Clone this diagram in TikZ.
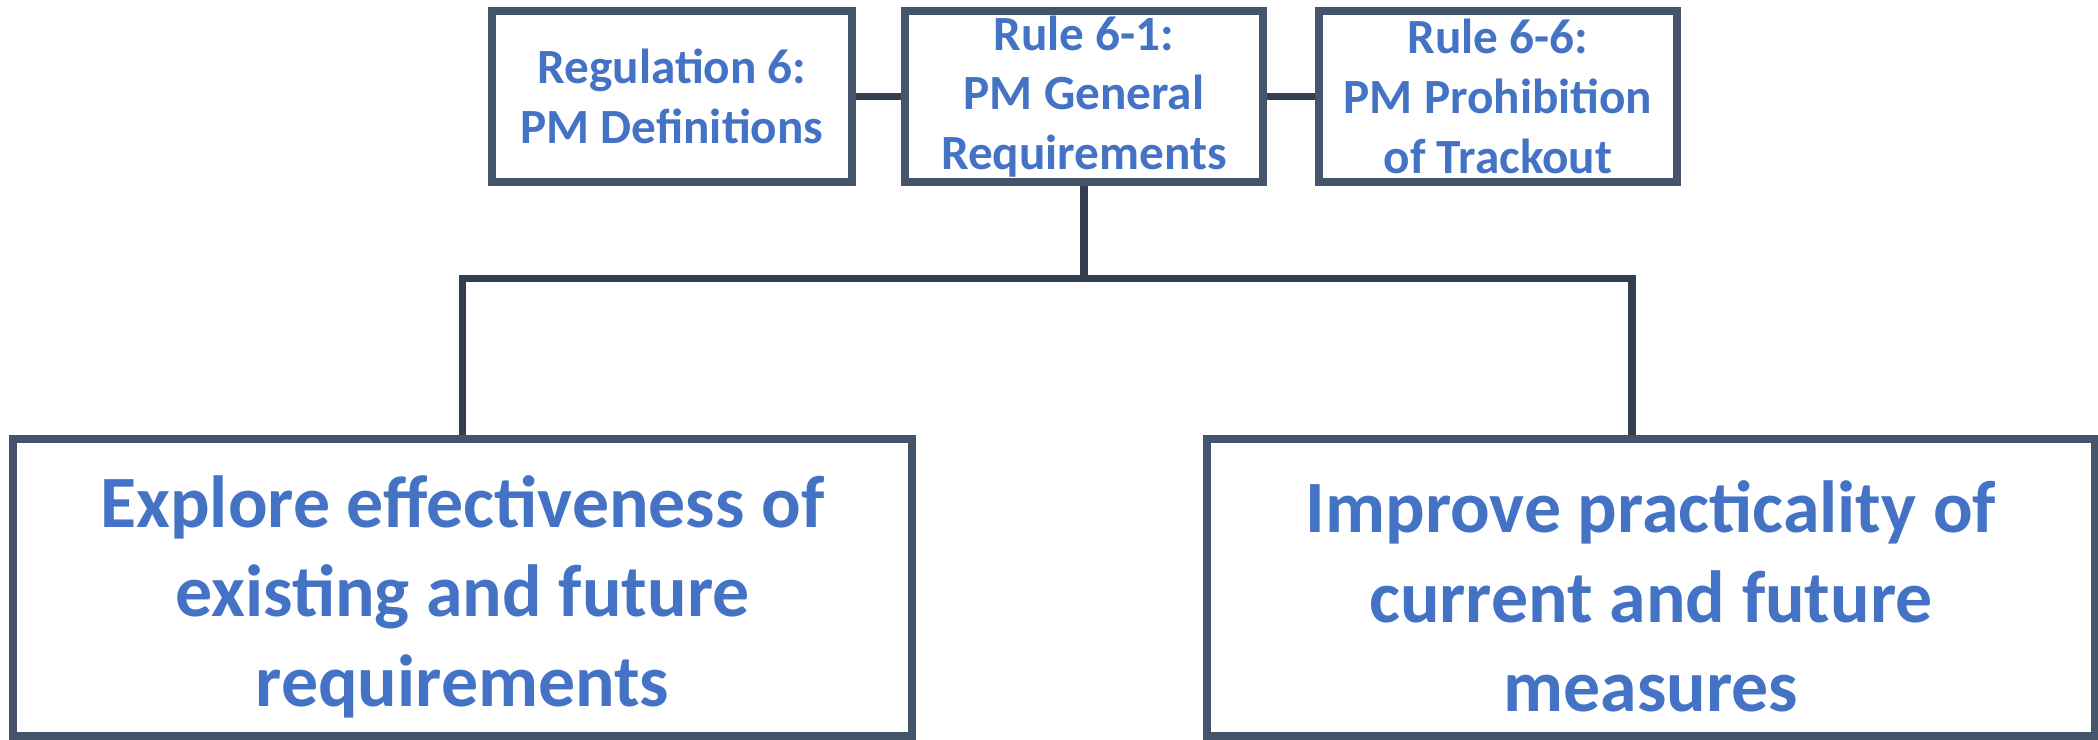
\documentclass[tikz,border=0pt]{standalone}
\usepackage{fontspec}
\setmainfont{Carlito}
\usepackage{tikz}
\usetikzlibrary{positioning}
\definecolor{boxline}{HTML}{44546A}
\definecolor{linkline}{HTML}{333F50}
\definecolor{txtblue}{HTML}{4472C4}
\begin{document}
\begin{tikzpicture}[
  rule/.style={draw=boxline,line width=2.4pt,fill=white,align=center,text=txtblue,font=\bfseries\fontsize{14}{17}\selectfont,inner sep=0pt,minimum height=1.71cm},
  aim/.style={draw=boxline,line width=2.4pt,fill=white,inner sep=0pt,minimum height=2.97cm},
  aimtext/.style={align=center,text=txtblue,font=\bfseries\fontsize{21}{25.5}\selectfont,inner sep=0pt,yshift=-0.09cm},
  link/.style={draw=linkline,line width=2.1pt}
]
\useasboundingbox (0,0) rectangle (20.98,-7.40);
\node[rule,minimum width=3.60cm] (reg) at (6.72,-0.965) {Regulation 6:\\PM Definitions};
\node[rule,minimum width=3.58cm] (general) at (10.84,-0.965) {Rule 6-1:\\PM General\\Requirements};
\node[rule,minimum width=3.58cm] (trackout) at (14.98,-0.965) {Rule 6-6:\\PM Prohibition\\of Trackout};
\node[aim,minimum width=8.99cm,label={[aimtext]center:{Explore effectiveness of\\existing and future\\requirements}}] (explore) at (4.625,-5.875) {};
\node[aim,minimum width=8.88cm,label={[aimtext]center:{Improve practicality of\\current and future\\measures}}] (improve) at (16.51,-5.875) {};
\draw[link] (reg) -- (general);
\draw[link] (general) -- (trackout);
\draw[link] (general.south) -- ++(0,-0.92) coordinate (split);
\draw[link] (split) -| (explore.north);
\draw[link] (split) -| ([xshift=-0.19cm]improve.north);
\end{tikzpicture}
\end{document}
